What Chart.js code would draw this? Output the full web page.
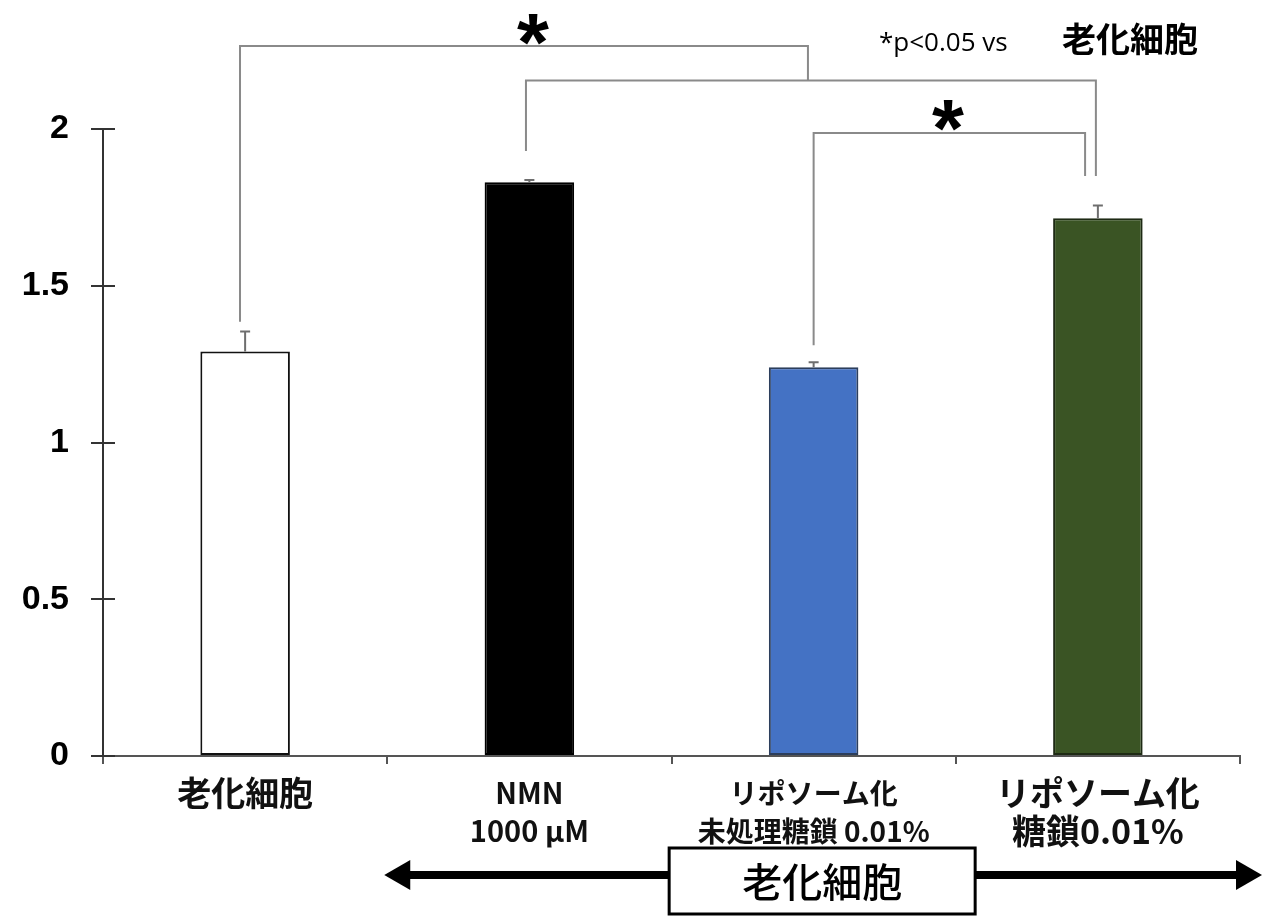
<!DOCTYPE html>
<html>
<head>
<meta charset="utf-8">
<script src="https://cdn.jsdelivr.net/npm/chart.js@4.4.0/dist/chart.umd.min.js"></script>
<style>
  body { margin: 0; background: #fff; }
  #wrap { width: 1268px; height: 917px; position: relative; }
</style>
</head>
<body>
<div id="wrap"><canvas id="canvas"></canvas></div>
<script>
'use strict';

// data
var categories = [['老化細胞'], ['NMN', '1000 μM'], ['リポソーム化', '未処理糖鎖 0.01%'], ['リポソーム化', '糖鎖0.01%']];
var means = [1.29, 1.83, 1.24, 1.715];
var errors = [0.064, 0.007, 0.016, 0.041];
var barColors = ['#ffffff', '#000000', '#4472c4', '#3a5424'];
var yTicks = [0, 0.5, 1, 1.5, 2];

// significance brackets, in (category index, value) units
var brackets = [
    [[-0.018, 1.385], [-0.018, 2.265], [1.98, 2.265], [1.98, 2.155]],
    [[0.988, 1.93], [0.988, 2.155], [2.993, 2.155], [2.993, 1.85]],
    [[2.0, 1.31], [2.0, 1.987], [2.955, 1.987], [2.955, 1.85]]
];
var stars = [[1.013, 2.34], [2.473, 2.065]];

var cjk = "'Noto Sans CJK JP', 'Noto Sans', sans-serif";
var labelSizes = [34, 29, 28, 34];

var overlay = {
    id: 'overlay',
    afterDraw: function (chart) {
        var ctx = chart.ctx, xs = chart.scales.x, ys = chart.scales.y;
        ctx.save();

        // y ticks cross the axis
        ctx.strokeStyle = '#333';
        ctx.lineWidth = 2;
        ys.ticks.forEach(function (t) {
            var py = Math.round(ys.getPixelForValue(t.value));
            ctx.beginPath();
            ctx.moveTo(xs.left, py);
            ctx.lineTo(xs.left + 12, py);
            ctx.stroke();
        });

        // error bars
        var meta = chart.getDatasetMeta(0);
        ctx.strokeStyle = '#6e6e6e';
        ctx.lineWidth = 2;
        meta.data.forEach(function (bar, i) {
            var top = ys.getPixelForValue(means[i] + errors[i]);
            ctx.beginPath();
            ctx.moveTo(bar.x, bar.y);
            ctx.lineTo(bar.x, top);
            ctx.moveTo(bar.x - 5, top);
            ctx.lineTo(bar.x + 5, top);
            ctx.stroke();
        });

        // brackets
        ctx.strokeStyle = '#8a8a8a';
        ctx.lineWidth = 2;
        brackets.forEach(function (b) {
            ctx.beginPath();
            b.forEach(function (p, k) {
                var px = xs.getPixelForValue(p[0]), py = ys.getPixelForValue(p[1]);
                if (k === 0) ctx.moveTo(px, py); else ctx.lineTo(px, py);
            });
            ctx.stroke();
        });

        // stars
        ctx.fillStyle = '#000';
        ctx.font = 'bold 82px "Liberation Sans", Arial, sans-serif';
        ctx.textAlign = 'center';
        ctx.textBaseline = 'alphabetic';
        stars.forEach(function (s) {
            ctx.fillText('*', xs.getPixelForValue(s[0]), ys.getPixelForValue(s[1]) + 0.58 * 82);
        });

        // note at top right
        ctx.textAlign = 'left';
        ctx.font = '26px "Open Sans", sans-serif';
        ctx.fillText('*p<0.05 vs', 879, 51);
        ctx.font = 'bold 34px ' + cjk;
        ctx.fillText('老化細胞', 1062, 52);

        // arrow with box
        var ay = 875;
        var left = xs.getPixelForValue(0.5) - 3, right = chart.width - 6;
        ctx.fillStyle = '#000';
        ctx.fillRect(left + 20, ay - 4, right - left - 40, 8);
        ctx.beginPath();
        ctx.moveTo(left, ay);
        ctx.lineTo(left + 26, ay - 15);
        ctx.lineTo(left + 26, ay + 15);
        ctx.closePath();
        ctx.fill();
        ctx.beginPath();
        ctx.moveTo(right, ay);
        ctx.lineTo(right - 26, ay - 15);
        ctx.lineTo(right - 26, ay + 15);
        ctx.closePath();
        ctx.fill();

        var bx = xs.getPixelForValue(2.03);
        ctx.fillStyle = '#fff';
        ctx.fillRect(bx - 153, 848, 306, 66);
        ctx.strokeStyle = '#000';
        ctx.lineWidth = 3;
        ctx.strokeRect(bx - 153, 848, 306, 66);
        ctx.fillStyle = '#000';
        ctx.textAlign = 'center';
        ctx.textBaseline = 'middle';
        ctx.font = '500 40px ' + cjk;
        ctx.fillText('老化細胞', bx, 882);

        ctx.restore();
    }
};

var chart = new Chart(document.getElementById('canvas').getContext('2d'), {
    type: 'bar',
    data: {
        labels: categories,
        datasets: [{
            data: means,
            backgroundColor: barColors,
            borderColor: ['#111', '#000', '#2c3e5c', '#1e2a14'],
            borderWidth: 2,
            borderSkipped: false,
            categoryPercentage: 1,
            barPercentage: 0.315
        }]
    },
    plugins: [overlay],
    options: {
        responsive: true,
        maintainAspectRatio: false,
        animation: false,
        layout: { padding: { top: 129, right: 28, left: 0, bottom: 0 } },
        plugins: { legend: { display: false }, tooltip: { enabled: false } },
        scales: {
            x: {
                offset: true,
                afterFit: function (s) { s.height = 161; },
                border: { color: '#555', width: 2 },
                grid: { offset: true, drawOnChartArea: false, tickLength: 8, color: '#555', lineWidth: 2 },
                ticks: {
                    color: '#111',
                    padding: 10,
                    maxRotation: 0,
                    autoSkip: false,
                    font: function (c) {
                        return { family: cjk, weight: 'bold', size: labelSizes[c.index] || 28, lineHeight: '38px' };
                    }
                }
            },
            y: {
                min: 0,
                max: 2,
                afterFit: function (s) { s.width = 103; },
                afterBuildTicks: function (s) { s.ticks = yTicks.map(function (v) { return { value: v }; }); },
                border: { color: '#333', width: 2 },
                grid: { drawOnChartArea: false, tickLength: 12, color: '#333', lineWidth: 2 },
                ticks: {
                    color: '#000',
                    padding: 22,
                    callback: function (v) { return String(v); },
                    font: { family: "'Liberation Sans', Arial, sans-serif", weight: 'bold', size: 34 }
                }
            }
        }
    }
});
</script>
</body>
</html>
